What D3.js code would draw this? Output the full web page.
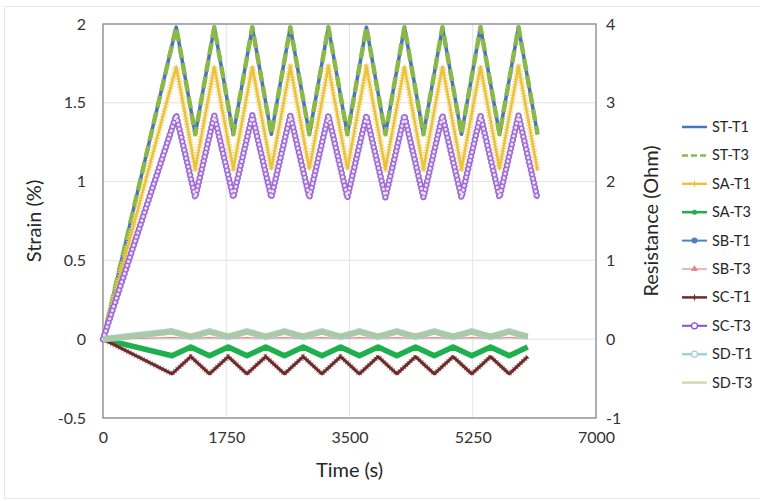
<!DOCTYPE html>
<html>
<head>
<meta charset="utf-8">
<script src="https://cdn.jsdelivr.net/npm/d3@7"></script>
<style>
  body { margin: 0; background: #fff; }
  text { font-family: Lato, "Open Sans", sans-serif; fill: #262626; }
</style>
</head>
<body>
<div id="chart"></div>
<script>
// time of each vertex (s)
const timeUp = [0, 1040, 1310, 1580, 1850, 2120, 2390, 2660, 2930, 3200, 3470, 3740, 4010, 4280, 4550, 4820, 5090, 5360, 5630, 5900, 6170];
const timeLow = [0, 980, 1246, 1512, 1778, 2044, 2310, 2576, 2842, 3108, 3374, 3640, 3906, 4172, 4438, 4704, 4970, 5236, 5502, 5768, 6030];

// strain (%) - left axis
const stT1 = [0, 1.98, 1.30, 1.98, 1.30, 1.98, 1.30, 1.98, 1.30, 1.98, 1.30, 1.98, 1.30, 1.98, 1.30, 1.98, 1.30, 1.98, 1.30, 1.98, 1.30];
const stT3 = [0, 1.98, 1.30, 1.98, 1.30, 1.98, 1.30, 1.98, 1.30, 1.98, 1.30, 1.98, 1.30, 1.98, 1.30, 1.98, 1.30, 1.98, 1.30, 1.98, 1.30];

// resistance (Ohm) - right axis
const saT1 = [0, 3.46, 2.16, 3.46, 2.16, 3.46, 2.16, 3.46, 2.16, 3.46, 2.16, 3.46, 2.16, 3.46, 2.16, 3.46, 2.16, 3.46, 2.16, 3.46, 2.14];
const scT3 = [0, 2.84, 1.80, 2.84, 1.80, 2.84, 1.80, 2.84, 1.80, 2.84, 1.80, 2.84, 1.80, 2.84, 1.80, 2.84, 1.80, 2.84, 1.80, 2.84, 1.78];
const saT3 = [0, -0.21, -0.10, -0.21, -0.10, -0.21, -0.10, -0.21, -0.10, -0.21, -0.10, -0.21, -0.10, -0.21, -0.10, -0.21, -0.10, -0.21, -0.10, -0.21, -0.10];
const scT1 = [0, -0.44, -0.22, -0.44, -0.22, -0.44, -0.22, -0.44, -0.22, -0.44, -0.22, -0.44, -0.22, -0.44, -0.22, -0.44, -0.22, -0.44, -0.22, -0.44, -0.22];
const sbT1 = [0, 0.08, 0.03, 0.08, 0.03, 0.08, 0.03, 0.08, 0.03, 0.08, 0.03, 0.08, 0.03, 0.08, 0.03, 0.08, 0.03, 0.08, 0.03, 0.08, 0.03];
const sbT3 = [0, 0.02, 0.01, 0.02, 0.01, 0.02, 0.01, 0.02, 0.01, 0.02, 0.01, 0.02, 0.01, 0.02, 0.01, 0.02, 0.01, 0.02, 0.01, 0.02, 0.01];
const sdT1 = [0, 0.10, 0.03, 0.10, 0.03, 0.10, 0.03, 0.10, 0.03, 0.10, 0.03, 0.10, 0.03, 0.10, 0.03, 0.10, 0.03, 0.10, 0.03, 0.10, 0.03];
const sdT3 = [0, 0.09, 0.04, 0.09, 0.04, 0.09, 0.04, 0.09, 0.04, 0.09, 0.04, 0.09, 0.04, 0.09, 0.04, 0.09, 0.04, 0.09, 0.04, 0.09, 0.04];

const xTicks = [0, 1750, 3500, 5250, 7000];
const yLeftTicks = [-0.5, 0, 0.5, 1, 1.5, 2];
const yRightTicks = [-1, 0, 1, 2, 3, 4];

// series: name, time, values, axis, style
const series = [
    { name: "ST-T1", t: timeUp, v: stT1, axis: "L", color: "#4a74c0", width: 3.5, kind: "solid" },
    { name: "ST-T3", t: timeUp, v: stT3, axis: "L", color: "#8cb84a", width: 4.5, kind: "dash" },
    { name: "SA-T1", t: timeUp, v: saT1, axis: "R", color: "#eac23e", width: 2.5, kind: "star" },
    { name: "SA-T3", t: timeLow, v: saT3, axis: "R", color: "#1fb04e", width: 5.5, kind: "dot" },
    { name: "SB-T1", t: timeLow, v: sbT1, axis: "R", color: "#4f81bd", width: 2, kind: "circleFill" },
    { name: "SB-T3", t: timeLow, v: sbT3, axis: "R", color: "#e58585", width: 1.2, kind: "triangle" },
    { name: "SC-T1", t: timeLow, v: scT1, axis: "R", color: "#6e2b2b", width: 3, kind: "plus" },
    { name: "SC-T3", t: timeUp, v: scT3, axis: "R", color: "#8a4fc6", width: 2, kind: "ring" },
    { name: "SD-T1", t: timeLow, v: sdT1, axis: "R", color: "#a0d2d8", width: 6.5, kind: "ringLight" },
    { name: "SD-T3", t: timeLow, v: sdT3, axis: "R", color: "#b5c27e", width: 5, kind: "dashMark" }
];

const width = 760, height = 501;
const margin = { left: 103, right: 164, top: 24, bottom: 83 };
const plotW = width - margin.left - margin.right;
const plotH = height - margin.top - margin.bottom;

const svg = d3.select("#chart").append("svg")
    .attr("width", width)
    .attr("height", height);

// faint chart border
svg.append("rect")
    .attr("x", 4.5).attr("y", 6.5)
    .attr("width", 800).attr("height", 492)
    .attr("fill", "none")
    .attr("stroke", "#e8e8e8");

const x = d3.scaleLinear().domain([0, 7000]).range([margin.left, margin.left + plotW]);
const yL = d3.scaleLinear().domain([-0.5, 2]).range([margin.top + plotH, margin.top]);
const yR = d3.scaleLinear().domain([-1, 4]).range([margin.top + plotH, margin.top]);

// gridlines
svg.append("g").selectAll("line.h")
    .data(yLeftTicks)
    .enter().append("line")
    .attr("x1", margin.left).attr("x2", margin.left + plotW)
    .attr("y1", d => yL(d)).attr("y2", d => yL(d))
    .attr("stroke", "#e3e3e3").attr("stroke-width", 1);
svg.append("g").selectAll("line.v")
    .data(xTicks)
    .enter().append("line")
    .attr("x1", d => x(d)).attr("x2", d => x(d))
    .attr("y1", margin.top).attr("y2", margin.top + plotH)
    .attr("stroke", "#e3e3e3").attr("stroke-width", 1);

// axes (labels only, Excel style)
const xAxis = svg.append("g")
    .attr("transform", `translate(0, ${margin.top + plotH})`)
    .call(d3.axisBottom(x).tickValues(xTicks).tickSize(0).tickPadding(14).tickFormat(d3.format("d")));
const yAxisL = svg.append("g")
    .attr("transform", `translate(${margin.left}, 0)`)
    .call(d3.axisLeft(yL).tickValues(yLeftTicks).tickSize(0).tickPadding(17).tickFormat(d => d));
const yAxisR = svg.append("g")
    .attr("transform", `translate(${margin.left + plotW}, 0)`)
    .call(d3.axisRight(yR).tickValues(yRightTicks).tickSize(0).tickPadding(10).tickFormat(d => d));
[xAxis, yAxisL, yAxisR].forEach(a => {
    a.select(".domain").remove();
    a.selectAll("text").style("font-size", "16px").style("fill", "#333");
});

// plot frame
svg.append("rect")
    .attr("x", margin.left).attr("y", margin.top)
    .attr("width", plotW).attr("height", plotH)
    .attr("fill", "none")
    .attr("stroke", "#8c8c8c").attr("stroke-width", 1.3);

// axis titles
svg.append("text")
    .attr("x", margin.left + plotW / 2).attr("y", 477)
    .attr("text-anchor", "middle")
    .style("font-size", "20px")
    .text("Time (s)");
svg.append("text")
    .attr("transform", `translate(41, ${margin.top + plotH / 2}) rotate(-90)`)
    .attr("text-anchor", "middle")
    .style("font-size", "20px")
    .text("Strain (%)");
svg.append("text")
    .attr("transform", `translate(${margin.left + plotW + 62}, ${margin.top + plotH / 2}) rotate(-90)`)
    .attr("text-anchor", "middle")
    .style("font-size", "20px")
    .text("Resistance (Ohm)");

function drawStyled(g, path, s, legend) {
    const p = (w, c, extra) => {
        const el = g.append("path").attr("d", path)
            .attr("fill", "none").attr("stroke", c).attr("stroke-width", w)
            .attr("stroke-linejoin", "round");
        if (extra) extra(el);
        return el;
    };
    switch (s.kind) {
        case "solid":
            p(s.width, s.color);
            break;
        case "dash":
            p(s.width, s.color, el => el.attr("stroke-dasharray", legend ? "6 3" : "12 5"));
            break;
        case "star":
            if (!legend) p(6, "#f3d46e", el => el.attr("stroke-dasharray", "1.3 1.4").attr("opacity", 0.9));
            p(s.width, s.color);
            break;
        case "dot":
            p(s.width, s.color);
            break;
        case "circleFill":
            p(s.width, s.color);
            break;
        case "triangle":
            p(s.width, s.color);
            break;
        case "plus":
            if (!legend) p(5.5, "#8a4a4a", el => el.attr("stroke-dasharray", "1 2").attr("opacity", 0.7));
            p(s.width, s.color);
            break;
        case "ring":
            p(s.width, s.color);
            if (!legend) {
                p(6.5, "#9d6ad6", el => el.attr("stroke-dasharray", "0.1 4.2").attr("stroke-linecap", "round"));
                p(3, "#ffffff", el => el.attr("stroke-dasharray", "0.1 4.2").attr("stroke-linecap", "round").attr("opacity", 0.8));
            }
            break;
        case "ringLight":
            p(s.width, s.color);
            break;
        case "dashMark":
            p(s.width, s.color, el => el.attr("opacity", 0.6));
            break;
    }
}

// series lines
const plot = svg.append("g");
series.forEach(s => {
    const yS = s.axis === "L" ? yL : yR;
    const line = d3.line().x((d, i) => x(s.t[i])).y(d => yS(d));
    drawStyled(plot.append("g"), line(s.v), s, false);
});

// legend
const legendX1 = 682, legendX2 = 707, legendY0 = 127, legendStep = 28.4;
const legend = svg.append("g");
series.forEach((s, i) => {
    const y = legendY0 + i * legendStep;
    const g = legend.append("g");
    drawStyled(g, `M${legendX1},${y}L${legendX2},${y}`, Object.assign({}, s, { width: Math.min(s.width, 2.5) }), true);
    const cx = (legendX1 + legendX2) / 2;
    if (s.kind === "dot") g.append("circle").attr("cx", cx).attr("cy", y).attr("r", 2.5).attr("fill", s.color);
    if (s.kind === "circleFill") g.append("circle").attr("cx", cx).attr("cy", y).attr("r", 3).attr("fill", s.color);
    if (s.kind === "ring" || s.kind === "ringLight") g.append("circle").attr("cx", cx).attr("cy", y).attr("r", 3).attr("fill", "#fff").attr("stroke", s.color).attr("stroke-width", 1.2);
    if (s.kind === "triangle") g.append("path").attr("d", d3.symbol(d3.symbolTriangle, 22)()).attr("transform", `translate(${cx},${y})`).attr("fill", s.color);
    if (s.kind === "plus" || s.kind === "star") g.append("path").attr("d", `M${cx},${y - 3}V${y + 3}`).attr("stroke", s.color).attr("stroke-width", 1.2);
    g.append("text")
        .attr("x", legendX2 + 5).attr("y", y)
        .attr("dy", "0.35em")
        .style("font-size", "14.5px")
        .text(s.name);
});
</script>
</body>
</html>
